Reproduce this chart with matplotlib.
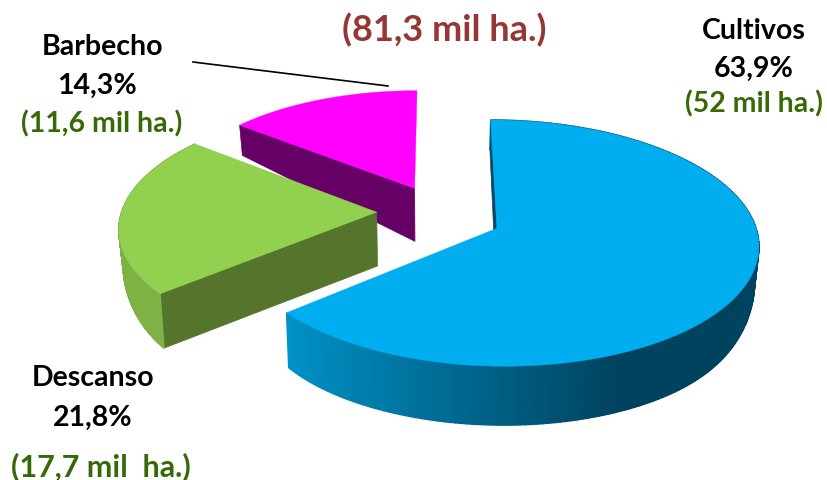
import numpy as np
import matplotlib
matplotlib.use("Agg")
import matplotlib.pyplot as plt
from matplotlib.colors import to_rgb

categories = ["Cultivos", "Descanso", "Barbecho"]
shares = [63.9, 21.8, 14.3]
share_labels = ["63,9%", "21,8%", "14,3%"]
area_labels = ["(52 mil ha.)", "(17,7 mil  ha.)", "(11,6 mil ha.)"]
total_label = "(81,3 mil ha.)"

# layout / style
top_colors = ["#00AEEF", "#92D050", "#FF00FF"]
wall_colors = ["#004A66", "#55752D", "#660066"]
side_light = ["#0094CA", "#7FB244", "#660066"]
side_dark = ["#00435F", "#7FB244", "#660066"]
offsets = [(0.2232, -0.089), (-0.24, 0.045), (-0.095, 0.25)]
radii = [0.99, 0.99, 0.96]
show_side = [True, True, False]
CX, CY, A, B, K = 438.5, 217.5, 259.0, 120.0, 0.12


def project(x, y):
    w = 1 + K * y
    return CX + A * x / w, CY - B * y / w


def drop(y, lx):
    return np.interp(y, [-1.1, 0.25, 0.9], [59, 53, 30]) * (1 - 0.35 * lx ** 8)


fig = plt.figure(figsize=(8.27, 4.8), dpi=100)
ax = fig.add_axes([0, 0, 1, 1])
ax.set_xlim(0, 827)
ax.set_ylim(480, 0)
ax.axis("off")

bounds = np.concatenate([[0], np.cumsum(shares)]) * 360 / sum(shares)

for i in reversed(range(len(shares))):
    a0, a1 = bounds[i], bounds[i + 1]
    ox, oy = offsets[i]
    r = radii[i]
    z = i * -3 + 10
    th = np.radians(np.linspace(a0, a1, 200))
    lx, ly = np.sin(th), np.cos(th)
    px, py = project(ox + r * lx, oy + r * ly)
    d = drop(oy + r * ly, lx)
    qx = px + (CX - px) * 0.014
    qy = py + d
    # wall at the starting edge of the slice
    ax0, ay0 = project(ox, oy)
    d0 = drop(oy, 0.0)
    bx0 = ax0 + (CX - ax0) * 0.014
    ax.fill([ax0, px[0], qx[0], bx0], [ay0, py[0], qy[0], ay0 + d0],
            color=wall_colors[i], lw=0.5, zorder=z)
    # outer side with gradient
    if show_side[i]:
        c0, c1 = np.array(to_rgb(side_light[i])), np.array(to_rgb(side_dark[i]))
        for j in range(len(th) - 1):
            t = np.clip((lx[j] + 0.8) / 1.2, 0, 1)
            col = c1 * t + c0 * (1 - t)
            ax.fill([px[j], px[j + 1], qx[j + 1], qx[j]],
                    [py[j], py[j + 1], qy[j + 1], qy[j]],
                    color=col, lw=1.0, zorder=z)
    # top face
    ax.fill(np.r_[ax0, px], np.r_[ay0, py], color=top_colors[i], lw=0.3,
            zorder=z + 1)

ax.plot([193, 388], [62, 86], color="black", lw=1.2, zorder=20)

FONT = "Lato"
SIZE = 20.5
green = "#376A06"
tk = dict(ha="center", va="center", family=FONT, fontweight="bold", zorder=30)
positions = {
    0: [(754, 31), (754, 69), (754, 104)],
    1: [(93, 378), (93, 418), (101, 467)],
    2: [(103, 47), (97, 86), (102, 124)],
}
area_sizes = [SIZE, 22, SIZE]
for i in range(3):
    p = positions[i]
    ax.text(*p[0], categories[i], color="black", fontsize=SIZE, **tk)
    ax.text(*p[1], share_labels[i], color="black", fontsize=SIZE, **tk)
    ax.text(*p[2], area_labels[i], color=green, fontsize=area_sizes[i], **tk)
ax.text(444, 30, total_label, color="#953735", fontsize=26, **tk)

fig.savefig("out.png", dpi=100)
